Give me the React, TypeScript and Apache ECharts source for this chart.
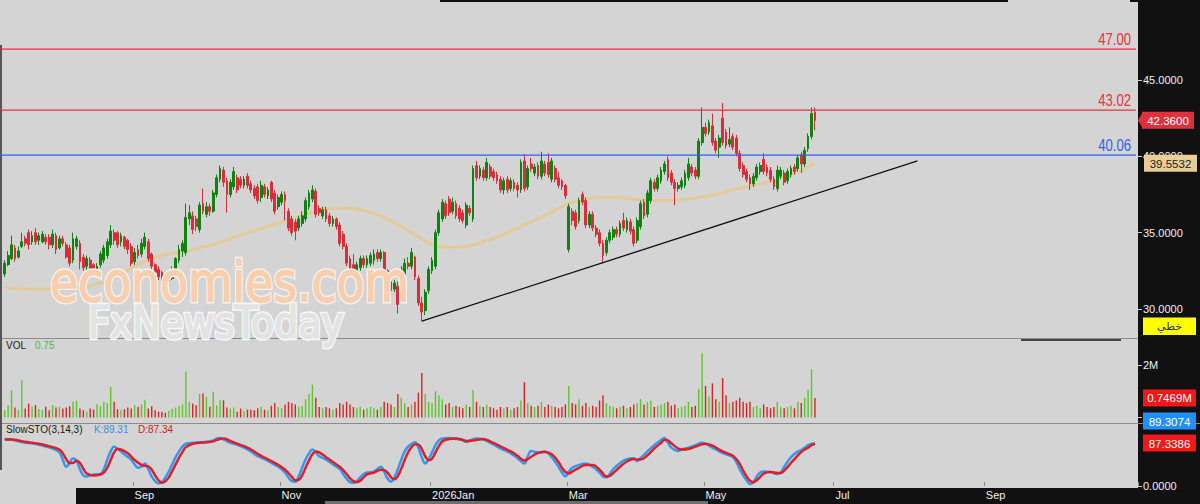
import { useEffect, useRef } from 'react';
import * as echarts from 'echarts';

// ---------- categories (trading days, Sun-Thu) ----------
const startDate = '2025-07-09';
const holidays = ['2025-09-23', '2026-02-22', '2026-03-18', '2026-03-19', '2026-03-22', '2026-03-23', '2026-03-24', '2026-05-25', '2026-05-26', '2026-05-27', '2026-05-28', '2026-05-31'];
const categoryCount = 332;
const monthNames = ['Jan', 'Feb', 'Mar', 'Apr', 'May', 'Jun', 'Jul', 'Aug', 'Sep', 'Oct', 'Nov', 'Dec'];

function buildDates(): string[] {
  const out: string[] = [];
  const [y, m, d] = startDate.split('-').map(Number);
  const cur = new Date(Date.UTC(y, m - 1, d));
  while (out.length < categoryCount) {
    const wd = cur.getUTCDay();
    const s = cur.toISOString().slice(0, 10);
    if (wd !== 5 && wd !== 6 && holidays.indexOf(s) < 0) out.push(s);
    cur.setUTCDate(cur.getUTCDate() + 1);
  }
  return out;
}
const dates = buildDates();

// ---------- price candles: [open, close, low, high] ----------
const candles: number[][] = [
  [32.3, 33.0, 32.1, 33.2], [32.9, 33.5, 32.8, 33.8], [33.3, 34.2, 33.2, 34.8], [34.0, 33.3, 33.1, 34.2], [33.4, 33.8, 33.3, 34.1],
  [34.1, 34.4, 34.0, 35.0], [34.6, 34.3, 34.1, 34.8], [35.0, 34.2, 33.9, 35.2], [34.4, 34.8, 34.2, 35.1], [35.0, 34.4, 34.2, 35.3],
  [34.5, 34.8, 34.2, 35.0], [34.4, 34.9, 34.3, 35.1], [34.7, 34.4, 34.2, 34.9], [34.7, 34.2, 33.9, 34.9], [34.2, 34.9, 34.0, 35.2],
  [34.8, 33.9, 33.6, 35.0], [34.0, 34.6, 33.9, 34.8], [34.6, 34.3, 34.1, 34.8], [34.2, 33.4, 33.3, 34.4], [34.0, 33.0, 32.8, 34.2],
  [33.2, 34.6, 33.0, 35.0], [34.1, 34.6, 33.9, 34.8], [34.3, 33.1, 32.6, 34.5], [33.4, 32.7, 32.5, 33.6], [32.8, 33.3, 32.3, 33.5],
  [33.2, 32.6, 32.4, 33.4], [32.9, 32.4, 32.2, 33.0], [32.5, 32.8, 32.3, 33.0], [32.9, 33.6, 32.7, 33.8], [33.2, 34.0, 33.0, 34.2],
  [33.5, 34.4, 33.3, 34.6], [34.2, 35.1, 34.0, 35.5], [35.0, 34.5, 34.2, 35.2], [35.0, 34.2, 34.0, 35.1], [34.4, 34.8, 34.1, 35.0],
  [34.7, 34.1, 33.9, 34.8], [34.5, 33.9, 33.6, 34.6], [34.1, 33.0, 32.8, 34.3], [33.1, 33.7, 32.9, 34.0], [33.9, 33.5, 33.3, 34.2],
  [33.6, 34.3, 33.4, 34.6], [34.1, 34.7, 33.9, 35.0], [34.4, 33.3, 33.1, 34.6], [33.6, 32.8, 32.6, 33.7], [32.9, 32.4, 32.2, 33.0],
  [32.6, 32.1, 31.9, 32.8], [32.4, 31.9, 31.8, 32.5], [32.1, 31.8, 31.6, 32.2], [31.8, 32.0, 31.6, 32.1], [32.0, 32.6, 31.9, 32.8],
  [32.5, 33.3, 32.4, 33.4], [33.2, 33.9, 33.0, 34.2], [33.8, 34.3, 33.4, 34.5], [33.7, 36.0, 33.5, 36.9], [35.9, 36.3, 35.5, 36.8],
  [36.1, 35.2, 34.9, 36.4], [35.9, 35.4, 35.1, 36.1], [35.2, 36.8, 35.0, 37.0], [36.9, 36.4, 36.2, 37.9], [36.2, 36.7, 36.0, 37.0],
  [36.7, 36.4, 36.1, 36.9], [36.4, 37.6, 36.3, 37.8], [37.5, 38.6, 37.3, 38.8], [38.5, 39.2, 38.3, 39.4], [39.1, 38.3, 38.0, 39.3],
  [38.4, 37.5, 36.3, 38.6], [37.5, 38.3, 37.3, 38.5], [38.0, 39.0, 37.8, 39.3], [38.6, 37.8, 37.6, 38.8], [38.5, 38.1, 37.9, 38.7],
  [38.1, 38.5, 37.9, 38.7], [38.7, 38.1, 37.9, 38.9], [38.2, 37.8, 37.6, 38.4], [37.9, 37.4, 37.2, 38.1], [38.0, 37.1, 36.9, 38.2],
  [37.3, 38.1, 37.0, 38.4], [38.0, 37.5, 37.3, 38.2], [37.4, 37.8, 37.2, 38.0], [38.3, 37.2, 37.0, 38.4], [37.6, 36.4, 36.2, 37.8],
  [36.7, 37.3, 36.5, 37.5], [37.0, 37.5, 36.8, 37.7], [37.5, 37.1, 35.8, 37.7], [36.4, 35.3, 35.1, 36.6], [35.9, 35.0, 34.8, 36.1],
  [35.7, 35.1, 34.5, 35.9], [35.3, 35.9, 35.1, 36.1], [35.6, 36.1, 35.4, 36.4], [35.9, 37.1, 35.7, 37.3], [36.7, 37.6, 36.5, 37.8],
  [37.2, 37.8, 37.0, 38.1], [37.7, 36.2, 36.0, 37.9], [36.6, 36.3, 36.1, 36.8], [36.1, 36.5, 35.9, 36.7], [36.5, 35.9, 35.7, 36.7],
  [36.1, 35.6, 35.4, 36.3], [35.6, 35.9, 35.4, 36.1], [35.9, 35.4, 35.2, 36.0], [35.5, 34.3, 34.1, 35.7], [34.9, 34.1, 33.9, 35.1],
  [34.1, 33.0, 32.8, 34.3], [33.3, 32.5, 32.3, 33.5], [32.9, 32.5, 32.3, 33.6], [32.5, 32.9, 32.3, 33.1], [32.7, 33.3, 32.5, 33.5],
  [33.3, 32.9, 32.7, 33.5], [32.9, 33.3, 32.7, 33.5], [33.0, 33.5, 32.8, 33.7], [33.2, 33.6, 32.9, 33.9], [33.7, 33.3, 33.1, 33.9],
  [33.3, 33.7, 33.1, 33.9], [33.7, 32.5, 32.3, 33.8], [32.5, 31.8, 31.6, 32.6], [31.8, 31.2, 31.0, 32.0], [31.3, 31.7, 31.1, 31.9],
  [31.5, 30.3, 29.7, 31.8], [30.6, 32.6, 30.4, 32.8], [32.2, 33.0, 32.0, 33.3], [33.0, 32.8, 32.6, 33.4], [32.8, 33.7, 32.6, 34.0],
  [33.4, 32.1, 31.9, 33.5], [32.0, 30.4, 30.2, 32.2], [30.4, 29.8, 29.2, 30.8], [29.9, 31.1, 29.6, 31.3], [31.2, 32.6, 31.0, 32.8],
  [32.5, 33.2, 32.3, 33.4], [32.8, 35.0, 32.6, 35.2], [35.0, 36.3, 34.8, 36.5], [35.9, 37.0, 35.7, 37.2], [36.9, 36.1, 35.9, 37.1],
  [37.2, 36.3, 36.1, 37.4], [36.4, 37.0, 36.2, 37.3], [36.9, 36.1, 35.9, 37.1], [36.6, 35.9, 35.7, 36.8], [36.3, 35.8, 35.6, 36.5],
  [35.5, 36.8, 35.3, 37.0], [36.6, 36.3, 36.1, 36.8], [35.9, 39.2, 35.7, 39.4], [39.4, 38.6, 38.4, 39.7], [38.7, 39.2, 38.5, 39.4],
  [39.1, 38.6, 38.4, 39.3], [38.6, 39.6, 38.4, 39.9], [39.3, 38.7, 38.5, 39.5], [39.0, 38.6, 38.4, 39.2], [38.8, 38.4, 38.2, 39.0],
  [38.5, 37.8, 37.6, 38.7], [37.8, 38.4, 37.5, 38.6], [38.5, 37.8, 37.6, 38.7], [37.9, 38.4, 37.7, 38.6], [38.3, 37.9, 37.7, 38.5],
  [38.1, 37.8, 37.3, 38.3], [37.8, 39.6, 37.6, 39.8], [39.7, 37.9, 37.7, 40.15], [38.0, 39.2, 37.8, 39.4], [39.5, 39.2, 39.0, 39.9],
  [38.9, 39.3, 38.7, 39.5], [39.4, 38.7, 38.5, 39.6], [38.7, 39.7, 38.5, 40.3], [39.5, 38.9, 38.7, 39.7], [39.6, 38.8, 38.6, 40.2],
  [38.5, 39.7, 38.3, 39.9], [39.2, 38.5, 38.3, 39.4], [38.6, 38.1, 37.9, 39.0], [38.4, 38.0, 37.8, 38.5], [38.1, 37.4, 37.2, 38.2],
  [33.9, 36.7, 33.7, 36.9], [36.4, 35.8, 35.5, 36.6], [36.3, 35.4, 35.2, 36.5], [35.8, 37.1, 35.6, 37.3], [37.5, 37.0, 36.8, 37.7],
  [37.1, 35.5, 35.3, 37.3], [35.5, 36.2, 35.3, 36.4], [36.2, 35.3, 35.1, 36.4], [35.3, 34.9, 34.7, 35.5], [35.0, 34.3, 34.1, 35.2],
  [34.3, 33.5, 33.0, 34.5], [33.7, 34.5, 33.5, 34.7], [34.5, 35.0, 34.3, 35.2], [34.7, 35.2, 34.5, 35.4], [35.2, 34.9, 34.7, 35.4],
  [34.9, 35.6, 34.7, 35.8], [35.8, 35.3, 35.1, 36.3], [35.2, 35.8, 35.0, 36.0], [35.7, 35.1, 34.9, 35.9], [35.2, 34.3, 34.1, 35.4],
  [34.5, 35.8, 34.3, 36.0], [35.4, 36.9, 35.2, 37.1], [37.0, 36.1, 35.9, 37.2], [36.2, 37.6, 36.0, 37.8], [37.1, 38.4, 36.9, 38.6],
  [38.3, 37.9, 37.7, 38.5], [37.9, 38.6, 37.7, 38.8], [38.4, 39.1, 38.2, 39.3], [39.0, 39.5, 38.8, 39.7], [39.8, 38.6, 38.4, 40.0],
  [38.9, 38.3, 38.1, 39.1], [38.3, 37.9, 36.8, 38.5], [37.9, 38.1, 37.7, 38.3], [38.0, 38.4, 37.8, 38.6], [38.1, 38.9, 37.9, 39.1],
  [38.6, 39.5, 38.4, 39.9], [39.3, 38.9, 38.7, 39.5], [39.1, 38.7, 38.5, 39.3], [38.7, 41.0, 38.5, 41.2], [40.9, 41.9, 40.7, 43.2],
  [41.9, 41.5, 41.3, 42.2], [41.6, 42.2, 41.4, 42.4], [42.0, 40.9, 40.7, 42.8], [41.0, 40.4, 40.2, 41.2], [40.6, 41.2, 39.9, 41.4],
  [42.5, 40.9, 40.7, 43.5], [41.6, 40.7, 40.5, 41.8], [40.8, 41.1, 40.6, 41.9], [41.3, 40.6, 40.4, 41.5], [41.2, 40.2, 40.0, 41.4],
  [40.2, 39.2, 39.0, 40.4], [39.4, 38.8, 38.6, 39.6], [39.0, 38.5, 38.3, 39.2], [38.6, 38.2, 37.8, 38.8], [38.2, 38.7, 38.0, 38.9],
  [38.6, 39.3, 38.4, 39.5], [39.0, 39.4, 38.8, 39.6], [39.8, 39.0, 38.8, 40.2], [39.3, 38.9, 38.7, 39.5], [39.1, 38.5, 38.3, 39.3],
  [38.5, 38.0, 37.8, 38.7], [37.9, 39.1, 37.7, 39.4], [38.7, 39.1, 38.5, 39.3], [38.9, 38.3, 38.1, 39.1], [38.4, 39.0, 38.2, 39.2],
  [38.8, 39.2, 38.6, 39.4], [39.3, 39.0, 38.8, 39.5], [39.2, 39.9, 39.0, 40.1], [40.1, 39.5, 38.9, 40.3], [39.5, 40.4, 39.3, 40.6],
  [40.5, 41.3, 40.3, 41.5], [41.3, 42.8, 41.1, 43.2], [42.9, 42.36, 41.7, 43.2],
];

// ---------- volume, millions ----------
const volumeM = [
  0.28, 0.47, 1.04, 0.38, 0.28, 1.42, 0.34, 0.53, 0.41, 0.47,
  0.32, 0.28, 0.41, 0.28, 0.47, 0.38, 0.41, 0.34, 0.38, 0.43,
  0.60, 0.64, 0.34, 0.28, 0.22, 0.34, 0.30, 0.51, 0.43, 0.60,
  0.55, 1.17, 0.60, 0.32, 0.28, 0.32, 0.38, 0.34, 0.47, 0.40,
  0.50, 0.68, 0.34, 0.43, 0.28, 0.22, 0.22, 0.18, 0.25, 0.33,
  0.38, 0.43, 0.50, 1.74, 0.60, 0.53, 0.47, 0.91, 0.91, 0.79,
  0.41, 0.98, 0.47, 0.66, 0.66, 0.38, 0.34, 0.38, 0.22, 0.34,
  0.25, 0.30, 0.30, 0.28, 0.35, 0.40, 0.30, 0.28, 0.45, 0.55,
  0.40, 0.35, 0.50, 0.60, 0.55, 0.50, 0.40, 0.45, 0.70, 0.90,
  1.25, 0.75, 0.40, 0.35, 0.40, 0.35, 0.30, 0.35, 0.55, 0.50,
  0.60, 0.50, 0.40, 0.35, 0.40, 0.30, 0.35, 0.40, 0.35, 0.30,
  0.40, 0.60, 0.55, 0.50, 0.40, 0.90, 0.75, 0.55, 0.40, 0.50,
  0.60, 0.95, 1.70, 0.90, 0.60, 0.55, 1.00, 0.85, 0.70, 0.50,
  0.55, 0.40, 0.45, 0.40, 0.35, 0.50, 0.40, 1.05, 0.60, 0.45,
  0.40, 0.50, 0.40, 0.35, 0.30, 0.40, 0.35, 0.40, 0.30, 0.35,
  0.40, 0.65, 1.35, 0.55, 0.45, 0.40, 0.45, 0.60, 0.40, 0.50,
  0.45, 0.40, 0.35, 0.40, 0.50, 1.20, 0.55, 0.50, 0.70, 0.45,
  0.55, 0.40, 0.45, 0.40, 0.65, 0.85, 0.55, 0.45, 0.40, 0.35,
  0.40, 0.45, 0.35, 0.40, 0.50, 0.55, 0.70, 0.50, 0.60, 0.65,
  0.40, 0.45, 0.50, 0.55, 0.60, 0.45, 0.50, 0.35, 0.40, 0.45,
  0.60, 0.40, 0.45, 1.10, 2.45, 1.20, 0.80, 1.30, 0.70, 0.60,
  1.50, 0.85, 0.55, 0.60, 0.65, 0.75, 0.60, 0.55, 0.60, 0.40,
  0.45, 0.35, 0.50, 0.40, 0.35, 0.40, 0.60, 0.40, 0.35, 0.40,
  0.45, 0.35, 0.60, 0.55, 0.75, 1.05, 1.85, 0.7469,
];

// ---------- moving average (index, value) ----------
const maPoints = [
  [0, 31.4], [10, 31.3], [20, 31.35], [28, 31.7], [33, 32.2], [38, 32.8], [42, 33.2], [46, 33.5], [52, 33.75], [57, 34.0],
  [62, 34.3], [67, 34.7], [74, 35.2], [81, 35.7], [86, 36.05], [91, 36.4], [96, 36.58], [100, 36.62], [104, 36.5], [108, 36.25],
  [111, 36.0], [116, 35.4], [122, 34.6], [125, 34.25], [130, 34.05], [135, 34.1], [140, 34.4], [145, 34.8], [150, 35.3], [155, 35.8],
  [160, 36.35], [165, 36.9], [170, 37.2], [174, 37.3], [179, 37.3], [184, 37.2], [189, 37.1], [194, 37.1], [199, 37.2], [203, 37.3],
  [208, 37.5], [213, 37.8], [218, 38.05], [223, 38.3], [228, 38.65], [232, 39.0], [235, 39.3], [237, 39.5532],
];

// ---------- slow stochastic (index, value) ----------
const kPoints = [
  [0, 98], [2, 97], [4, 93], [6, 90], [8, 89], [10, 86], [12, 82], [14, 78], [16, 70], [17, 55], [18, 40], [19, 48], [20, 58], [21, 52],
  [22, 35], [23, 22], [24, 20], [26, 24], [28, 25], [29, 35], [30, 55], [31, 72], [32, 82], [33, 78], [35, 66], [37, 55], [38, 45],
  [39, 38], [40, 40], [41, 47], [42, 35], [43, 20], [44, 10], [45, 5], [46, 8], [47, 18], [48, 30], [49, 45], [50, 60], [51, 72],
  [52, 82], [53, 88], [55, 90], [57, 91], [59, 92], [61, 95], [62, 99], [63, 100], [64, 97], [66, 90], [68, 86], [70, 80], [72, 72],
  [74, 62], [76, 56], [78, 48], [80, 40], [81, 35], [82, 28], [83, 18], [84, 10], [85, 9], [86, 20], [87, 38], [88, 55], [89, 68],
  [90, 76], [91, 70], [92, 62], [94, 55], [96, 45], [98, 35], [99, 25], [100, 15], [101, 8], [102, 6], [103, 10], [104, 18], [105, 25],
  [106, 28], [108, 30], [110, 40], [111, 30], [112, 15], [113, 9], [114, 18], [115, 35], [116, 55], [117, 72], [118, 82], [119, 88],
  [120, 91], [121, 80], [122, 60], [123, 47], [124, 55], [125, 70], [126, 85], [127, 95], [128, 99], [130, 100], [132, 98], [134, 95],
  [135, 92], [136, 95], [138, 99], [140, 97], [142, 90], [144, 82], [146, 75], [148, 68], [150, 58], [152, 47], [153, 62], [154, 73],
  [156, 70], [158, 72], [160, 60], [162, 40], [163, 28], [164, 20], [165, 30], [166, 38], [168, 44], [170, 47], [172, 40], [174, 28],
  [175, 20], [176, 18], [177, 25], [178, 35], [180, 48], [182, 56], [184, 58], [185, 52], [186, 58], [188, 72], [190, 85], [192, 96],
  [193, 100], [194, 90], [195, 80], [197, 73], [198, 76], [200, 80], [202, 85], [204, 90], [205, 88], [207, 80], [209, 72], [211, 66],
  [213, 60], [214, 50], [215, 35], [216, 22], [217, 12], [218, 4], [219, 8], [220, 20], [221, 28], [222, 30], [224, 29], [226, 25],
  [227, 28], [228, 40], [230, 60], [232, 72], [233, 75], [234, 80], [235, 85], [236, 88], [237, 89.3074],
];
const dPoints = [
  [0, 97], [2, 97], [4, 95], [6, 92], [8, 90], [10, 88], [12, 85], [14, 81], [16, 76], [17, 68], [18, 56], [19, 48], [20, 48], [21, 53],
  [22, 48], [23, 36], [24, 26], [26, 22], [28, 24], [29, 28], [30, 38], [31, 54], [32, 70], [33, 77], [34, 76], [36, 68], [38, 54],
  [40, 44], [41, 42], [42, 41], [43, 34], [44, 22], [45, 12], [46, 7], [47, 10], [48, 18], [49, 31], [50, 45], [51, 59], [52, 71],
  [53, 81], [55, 88], [57, 90], [59, 91], [61, 93], [62, 96], [63, 98], [64, 99], [66, 94], [68, 88], [70, 83], [72, 76], [74, 67],
  [76, 59], [78, 52], [80, 44], [81, 39], [82, 34], [83, 27], [84, 19], [85, 12], [86, 13], [87, 22], [88, 38], [89, 53], [90, 66],
  [91, 72], [92, 70], [94, 60], [96, 50], [98, 40], [99, 33], [100, 25], [101, 16], [102, 10], [103, 8], [104, 11], [105, 18], [106, 24],
  [108, 28], [110, 34], [111, 33], [112, 28], [113, 18], [114, 14], [115, 21], [116, 36], [117, 54], [118, 70], [119, 81], [120, 87],
  [121, 86], [122, 77], [123, 62], [124, 54], [125, 57], [126, 70], [127, 83], [128, 93], [130, 98], [132, 99], [134, 96], [135, 94],
  [136, 94], [138, 96], [140, 98], [142, 93], [144, 86], [146, 79], [148, 72], [150, 63], [152, 53], [153, 56], [154, 61], [156, 69],
  [158, 71], [160, 66], [162, 50], [163, 38], [164, 29], [165, 26], [166, 30], [168, 38], [170, 44], [172, 44], [174, 34], [175, 26],
  [176, 20], [177, 21], [178, 27], [180, 40], [182, 51], [184, 56], [185, 55], [186, 55], [188, 64], [190, 78], [192, 90], [193, 96],
  [194, 95], [195, 89], [197, 78], [198, 76], [200, 77], [202, 82], [204, 87], [205, 88], [207, 84], [209, 76], [211, 69], [213, 63],
  [214, 56], [215, 46], [216, 32], [217, 20], [218, 11], [219, 8], [220, 12], [221, 19], [222, 26], [224, 29], [226, 27], [227, 27],
  [228, 32], [230, 48], [232, 64], [233, 71], [234, 76], [235, 80], [236, 85], [237, 87.3386],
];

// ---------- levels / ticks ----------
const resistanceLevels = [47.0, 43.02];
const supportLevel = 40.06;
const trendLine = [[122, 29.2], [267, 39.7]];
const priceTicks = [30, 35, 40, 45];
const volumeTicks = [0, 2];
const stochTicks = [0];

const FONT = '"Liberation Sans", Arial, sans-serif';
const UP = '#0f820f';
const DOWN = '#d92e3a';
const VOL_UP = '#5fc62a';
const VOL_DOWN = '#dd2222';
const RED_LEVEL = '#e8323f';
const BLUE_LEVEL = '#2f62ee';

function isLabelDay(i: number) {
  if (i <= 0 || i > dates.length - 6) return false;
  const m = +dates[i].slice(5, 7);
  const pm = +dates[i - 1].slice(5, 7);
  return m !== pm && m % 2 === 1;
}

export default function App() {
  const ref = useRef<HTMLDivElement>(null);
  useEffect(() => {
    document.body.style.margin = '0';
    const chart = echarts.init(ref.current as HTMLDivElement, null, { renderer: 'svg', width: 1200, height: 504 });
    const xBase = {
      type: 'category', data: dates, boundaryGap: true,
      axisLine: { show: false }, axisTick: { show: false }, axisLabel: { show: false }, splitLine: { show: false },
    };
    const lastClose = candles[candles.length - 1][1];
    const lastMA = maPoints[maPoints.length - 1][1];
    const lastVol = volumeM[volumeM.length - 1];
    const lastK = kPoints[kPoints.length - 1][1];
    const lastD = dPoints[dPoints.length - 1][1];

    const option: any = {
      animation: false,
      grid: [
        { left: 3, right: 62, top: 0, height: 338 },
        { left: 3, right: 62, top: 338, height: 79.5 },
        { left: 3, right: 62, top: 423, height: 63 },
      ],
      xAxis: [
        { ...xBase, gridIndex: 0 },
        { ...xBase, gridIndex: 1 },
        {
          ...xBase, gridIndex: 2,
          axisTick: { show: true, inside: true, length: 4, interval: (i: number) => isLabelDay(i), lineStyle: { color: '#8a8a8a' } },
          axisLabel: {
            show: true, interval: (i: number) => isLabelDay(i), color: '#f0f0f0', fontSize: 11, fontFamily: FONT,
            align: 'left', margin: 3,
            formatter: (v: string) => { const m = +v.slice(5, 7); return m === 1 ? v.slice(0, 4) + 'Jan' : monthNames[m - 1]; },
          },
        },
      ],
      yAxis: [
        {
          gridIndex: 0, type: 'value', position: 'right', min: 28.1, max: 50.24,
          splitLine: { show: false }, axisLine: { show: false },
          axisTick: { show: true, length: 4, lineStyle: { color: '#cccccc' }, customValues: priceTicks },
          axisLabel: { color: '#f0f0f0', fontSize: 11, fontFamily: FONT, margin: 5, customValues: priceTicks, formatter: (v: number) => v.toFixed(4) },
        },
        {
          gridIndex: 1, type: 'value', position: 'right', min: 0, max: 3.03,
          splitLine: { show: false }, axisLine: { show: false },
          axisTick: { show: true, length: 4, lineStyle: { color: '#cccccc' }, customValues: volumeTicks },
          axisLabel: { color: '#f0f0f0', fontSize: 11, fontFamily: FONT, margin: 5, customValues: volumeTicks, formatter: (v: number) => v + 'M' },
        },
        {
          gridIndex: 2, type: 'value', position: 'right', min: 0, max: 131.25,
          splitLine: { show: false }, axisLine: { show: false },
          axisTick: { show: true, length: 4, lineStyle: { color: '#cccccc' }, customValues: stochTicks },
          axisLabel: { color: '#f0f0f0', fontSize: 11, fontFamily: FONT, margin: 5, customValues: stochTicks, formatter: (v: number) => v.toFixed(4) },
        },
      ],
      series: [
        {
          type: 'line', xAxisIndex: 0, yAxisIndex: 0, data: maPoints, smooth: true, showSymbol: false, z: 1, silent: true,
          lineStyle: { color: 'rgba(232, 200, 140, 0.85)', width: 3 },
        },
        {
          type: 'candlestick', xAxisIndex: 0, yAxisIndex: 0, data: candles, barWidth: 2.3, z: 3,
          itemStyle: { color: UP, color0: DOWN, borderColor: UP, borderColor0: DOWN, borderWidth: 1 },
          markLine: {
            symbol: ['none', 'none'], silent: true, animation: false, label: { show: false },
            lineStyle: { color: '#111111', width: 1.3, type: 'solid' },
            data: [
              [
                { coord: trendLine[0], lineStyle: { color: '#111111', width: 1.3, type: 'solid' } },
                { coord: trendLine[1], lineStyle: { color: '#111111', width: 1.3, type: 'solid' } },
              ],
            ],
          },
        },
        {
          type: 'bar', xAxisIndex: 1, yAxisIndex: 1, barWidth: 1.4, silent: true,
          data: volumeM.map((v, i) => ({ value: v, itemStyle: { color: candles[i][1] >= candles[i][0] ? VOL_UP : VOL_DOWN } })),
        },
        {
          type: 'line', xAxisIndex: 2, yAxisIndex: 2, data: kPoints, smooth: 0.4, showSymbol: false, z: 3, silent: true,
          lineStyle: { color: '#3399ee', width: 2.5 },
        },
        {
          type: 'line', xAxisIndex: 2, yAxisIndex: 2, data: dPoints, smooth: 0.4, showSymbol: false, z: 4, silent: true,
          lineStyle: { color: '#e01e2a', width: 2.5 },
        },
      ],
    };
    chart.setOption(option);

    const py = (v: number, idx: number) => chart.convertToPixel({ yAxisIndex: idx } as any, v) as number;
    const txt = (x: number, y: number, text: string, fill: string, size: number, align = 'left', extra: any = {}) => ({
      type: 'text', x, y, z: 60, silent: true,
      style: { text, fill, fontSize: size, fontFamily: FONT, align, verticalAlign: 'middle', ...extra },
    });
    const tag = (yc: number, text: string, bg: string, fg: string, x0 = 1143, w = 53) => [
      { type: 'rect', z: 70, silent: true, shape: { x: x0, y: yc - 8.5, width: w, height: 17 }, style: { fill: bg } },
      { type: 'text', z: 71, silent: true, x: x0 + w / 2, y: yc + 0.5, style: { text, fill: fg, fontSize: 11.5, fontFamily: FONT, align: 'center', verticalAlign: 'middle' } },
    ];
    const level = (v: number, color: string) => {
      const y = py(v, 0);
      return [
        { type: 'rect', z: 5, silent: true, shape: { x: 0, y: Math.round(y) - 0.6, width: 1136, height: 1.3 }, style: { fill: color } },
        {
          type: 'text', x: 1131, y: y - 2, scaleX: 0.82, z: 60, silent: true,
          style: { text: v.toFixed(2), fill: color, fontSize: 16, fontFamily: FONT, align: 'right', verticalAlign: 'bottom' },
        },
      ];
    };
    const mark = (text: string, x: number, y: number, sx: number, size: number, fill: string, edge: string) => [
      {
        type: 'text', x, y, scaleX: sx, z: 49, silent: true,
        style: { text, fill: 'none', stroke: edge, lineWidth: 4.5, fontSize: size, fontFamily: '"DejaVu Sans"', align: 'left', verticalAlign: 'middle' },
      },
      {
        type: 'text', x, y, scaleX: sx, z: 50, silent: true,
        style: { text, fill, stroke: fill, lineWidth: 1.6, fontSize: size, fontFamily: '"DejaVu Sans"', align: 'left', verticalAlign: 'middle' },
      },
    ];

    const elements: any[] = [];
    // level lines and labels
    resistanceLevels.forEach((v) => elements.push(...level(v, RED_LEVEL)));
    elements.push(...level(supportLevel, BLUE_LEVEL));
    // watermark
    elements.push(...mark('economies.com', 50, 282, 0.83, 55, '#f8cfae', '#f4f1ee'));
    elements.push(...mark('FxNewsToday', 88, 323, 0.86, 44, '#e3e3e3', '#f8f8f8'));
    // panel headers
    elements.push(txt(6, 345, 'VOL', '#1a1a1a', 10));
    elements.push(txt(35, 345, lastVol.toFixed(2), '#55b833', 10));
    elements.push(txt(6, 429.5, 'SlowSTO(3,14,3)', '#1a1a1a', 10));
    elements.push(txt(94, 429.5, 'K:' + lastK.toFixed(2), '#3d8fe0', 10));
    elements.push(txt(138, 429.5, 'D:' + lastD.toFixed(2), '#d42020', 10));
    // last price tag with arrow
    const yClose = py(lastClose, 0);
    elements.push({ type: 'polygon', z: 70, silent: true, shape: { points: [[1138, yClose], [1143, yClose - 8.5], [1143, yClose + 8.5]] }, style: { fill: '#e0303e' } });
    elements.push(...tag(yClose, lastClose.toFixed(4), '#e0303e', '#ffffff', 1142, 52));
    elements.push(...tag(py(lastMA, 0), lastMA.toFixed(4), '#e9cd97', '#222222', 1144, 53));
    // linear-scale button
    elements.push({ type: 'rect', z: 70, silent: true, shape: { x: 1143, y: 317.5, width: 53, height: 17.5 }, style: { fill: '#ffff00' } });
    elements.push({ type: 'text', z: 71, silent: true, x: 1169.5, y: 326.5, style: { text: 'خطي', fill: '#333333', fontSize: 11, fontFamily: '"DejaVu Sans", "Noto Sans"', align: 'center', verticalAlign: 'middle' } });
    // volume + stochastic tags
    elements.push(...tag(py(lastVol, 1), lastVol.toFixed(4) + 'M', '#f01818', '#ffffff'));
    const yD = py(lastD, 2);
    const yK = Math.min(py(lastK, 2), yD - 23);
    elements.push(...tag(yK, lastK.toFixed(4), '#1e90ff', '#ffffff'));
    elements.push(...tag(yD - 1, lastD.toFixed(4), '#f01818', '#ffffff'));

    chart.setOption({ graphic: { elements } });
    return () => chart.dispose();
  }, []);

  const box = (left: number, top: number, width: number, height: number, bg: string) => (
    <div style={{ position: 'absolute', left, top, width, height, background: bg }} />
  );
  return (
    <div style={{ position: 'relative', width: 1200, height: 504, background: '#d4d4d4', overflow: 'hidden' }}>
      {box(1138, 0, 62, 504, '#111111')}
      {box(76, 488, 1062, 16, '#111111')}
      {box(325, 501, 383, 3, '#6e6e6e')}
      {box(440, 0, 568, 2, '#111111')}
      {box(1130, 0, 8, 2, '#111111')}
      {box(0, 338, 1138, 1, '#8c8c8c')}
      {box(0, 423, 1200, 1, '#8c8c8c')}
      {box(1021, 339, 100, 1.5, '#444444')}
      {box(0, 45, 2, 425, '#555555')}
      <div ref={ref} style={{ position: 'absolute', left: 0, top: 0, width: 1200, height: 504 }} />
    </div>
  );
}
